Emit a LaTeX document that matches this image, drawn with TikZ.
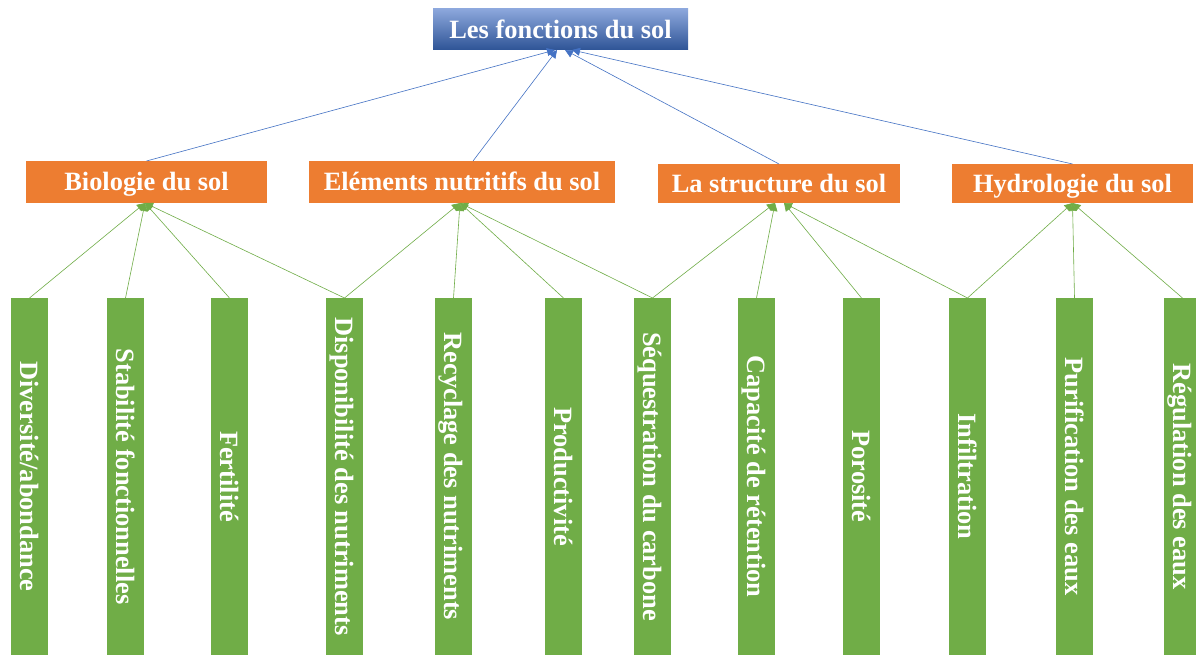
\documentclass[tikz,border=0pt]{standalone}
\usepackage{fontspec}
\setmainfont{Liberation Serif}
\usetikzlibrary{arrows.meta}
\definecolor{orangeC}{RGB}{237,125,49}
\definecolor{greenC}{RGB}{112,173,71}
\definecolor{blueL}{RGB}{140,167,220}
\definecolor{blueM}{RGB}{68,114,196}
\definecolor{blueD}{RGB}{46,84,150}
\tikzset{
  txt/.style={text=white, font=\fontsize{26.4}{30}\selectfont\bfseries, inner sep=0pt, outer sep=0pt, text height=18pt, text depth=0pt},
  topbox/.style={txt, top color=blueL, middle color=blueM, bottom color=blueD, shading=axis},
  obox/.style={txt, fill=orangeC},
  gbox/.style={txt, fill=greenC, minimum width=37pt, minimum height=357pt},
  gtext/.style={txt, rotate=-90},
  bline/.style={draw=blueM, line width=0.6pt, -{Triangle[length=8pt,width=8pt]}},
  gline/.style={draw=greenC, line width=0.6pt, -{Triangle[length=8pt,width=8pt]}}
}
\begin{document}
\begin{tikzpicture}[x=1pt,y=-1pt]
\useasboundingbox (0,0) rectangle (1196,655);
\fill[white] (0,0) rectangle (1196,655);
% top
\node[topbox, minimum width=255pt, minimum height=41pt] (top) at (560.5,29.5) {Les fonctions du sol};
% orange
\node[obox, minimum width=241pt, minimum height=42pt] (bio) at (146.5,182) {Biologie du sol};
\node[obox, minimum width=306pt, minimum height=42pt] (ele) at (462,182) {Eléments nutritifs du sol};
\node[obox, minimum width=242pt, minimum height=39pt] (str) at (779,183.5) {La structure du sol};
\node[obox, minimum width=241pt, minimum height=39pt] (hyd) at (1072.5,183.5) {Hydrologie du sol};
% green boxes
\foreach \n/\x in {g1/29.5,g2/125.5,g3/229.5,g4/344.5,g5/453.5,g6/563.5,g7/652.5,g8/756.5,g9/861.5,g10/967.5,g11/1074.5,g12/1182.5}{
  \node[gbox] (\n) at (\x,476.5) {};
}
\node[gtext] at (g1) {Diversité/abondance};
\node[gtext] at (g2) {Stabilité fonctionnelles};
\node[gtext] at (g3) {Fertilité};
\node[gtext] at (g4) {Disponibilité des nutriments};
\node[gtext] at (g5) {Recyclage des nutriments};
\node[gtext] at (g6) {Productivité};
\node[gtext] at (g7) {Séquestration du carbone};
\node[gtext] at (g8) {Capacité de rétention};
\node[gtext] at (g9) {Porosité};
\node[gtext] at (g10) {Infiltration};
\node[gtext] at (g11) {Purification des eaux};
\node[gtext] at (g12) {Régulation des eaux};
% coordinates
\coordinate (tb1) at ([xshift=-5.5pt]top.south);
\coordinate (tb2) at ([xshift=-3.5pt]top.south);
\coordinate (tb3) at ([xshift=4.5pt]top.south);
\coordinate (tb4) at ([xshift=11.5pt]top.south);
\coordinate (eb) at ([xshift=-2pt]ele.south);
\coordinate (sb1) at ([xshift=-4pt]str.south);
\coordinate (sb2) at ([xshift=5pt]str.south);
% blue lines
\draw[bline] (bio.north) -- (tb1);
\draw[bline] ([xshift=11pt]ele.north) -- (tb2);
\draw[bline] (str.north) -- (tb3);
\draw[bline] (hyd.north) -- (tb4);
% green lines
\foreach \g in {g1,g2,g3,g4}{\draw[gline] (\g.north) -- ([xshift=-1.5pt]bio.south);}
\foreach \g in {g4,g5,g6,g7}{\draw[gline] (\g.north) -- (eb);}
\foreach \g in {g7,g8}{\draw[gline] (\g.north) -- (sb1);}
\foreach \g in {g9,g10}{\draw[gline] (\g.north) -- (sb2);}
\foreach \g in {g10,g11,g12}{\draw[gline] (\g.north) -- (hyd.south);}
\end{tikzpicture}
\end{document}
